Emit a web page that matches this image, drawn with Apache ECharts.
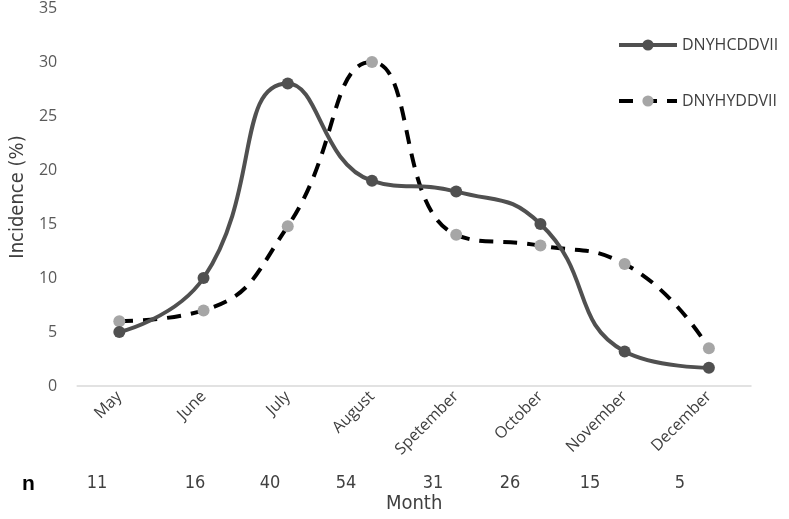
<!DOCTYPE html>
<html><head><meta charset="utf-8">
<script src="https://cdn.jsdelivr.net/npm/echarts@6/dist/echarts.min.js"></script>
<style>html,body{margin:0;padding:0;background:#fff}#c{width:789px;height:519px}</style>
</head><body><div id="c"></div>
<script>
const months = ['May','June','July','August','Spetember','October','November','December'];
const seriesNames = ['DNYHCDDVII','DNYHYDDVII'];
const dnyhcddvii = [5, 10, 28, 19, 18, 15, 3.2, 1.7];
const dnyhyddvii = [6, 7, 14.8, 30, 14, 13, 11.3, 3.5];
const nValues = ['11','16','40','54','31','26','15','5'];
const nX = [97, 195, 270, 346, 433, 510, 590, 680];
const yTicks = {min:0, max:35, interval:5};

const condensed = '"DejaVu Sans Condensed", "Liberation Sans Narrow", "Roboto Condensed", Arial';
const chart = echarts.init(document.getElementById('c'), null, {renderer:'canvas'});
const graphics = [{type:'text', left:22, top:474, style:{text:'n', font:'bold 21px "Liberation Sans", Arial', fill:'#000'}}];
nValues.forEach((v,i)=>graphics.push({type:'text', x:nX[i], y:474, style:{text:v, font:'18px ' + condensed, fill:'#404040', textAlign:'center'}}));

chart.setOption({
  animation:false,
  backgroundColor:'#fff',
  grid:{left:75, right:38, top:8, bottom:131},
  legend:{
    orient:'vertical', left:612, top:32, itemGap:40, itemWidth:58, itemHeight:14,
    textStyle:{color:'#404040', fontSize:16, fontFamily:'"Open Sans", "Liberation Sans", Arial'},
    lineStyle:{width:4},
    data:seriesNames
  },
  xAxis:{
    type:'category', data:months, boundaryGap:true,
    axisLine:{lineStyle:{color:'#d9d9d9', width:1.5}},
    axisTick:{show:false},
    axisLabel:{rotate:45, color:'#404040', fontSize:16, fontFamily:'"Open Sans", "Liberation Sans", Arial', margin:8, interval:0},
    name:'Month', nameLocation:'middle', nameGap:108,
    nameTextStyle:{color:'#404040', fontSize:20, fontFamily:condensed}
  },
  yAxis:{
    type:'value', min:yTicks.min, max:yTicks.max, interval:yTicks.interval,
    splitLine:{show:false}, axisLine:{show:false}, axisTick:{show:false},
    axisLabel:{color:'#595959', fontSize:16, fontFamily:'"Open Sans", "Liberation Sans", Arial', margin:20},
    name:'Incidence (%)', nameLocation:'middle', nameGap:49, nameRotate:90,
    nameTextStyle:{color:'#404040', fontSize:20, fontFamily:condensed}
  },
  series:[
    {name:seriesNames[0], type:'line', data:dnyhcddvii, smooth:0.5,
     lineStyle:{color:'#505050', width:4}, itemStyle:{color:'#505050'},
     symbol:'circle', symbolSize:12, z:3},
    {name:seriesNames[1], type:'line', data:dnyhyddvii, smooth:0.5,
     lineStyle:{color:'#000', width:4, type:[14,10]}, itemStyle:{color:'#a6a6a6'},
     symbol:'circle', symbolSize:12, z:2}
  ],
  graphic:graphics
});
</script></body></html>
